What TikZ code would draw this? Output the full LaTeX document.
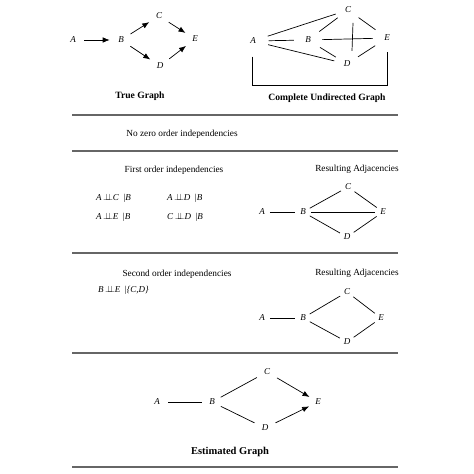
\documentclass[tikz,border=0pt]{standalone}
\usepackage{fontspec}
\setmainfont{Liberation Serif}
\usetikzlibrary{arrows.meta}
\newcommand{\myindep}{\ensuremath{\perp\!\!\!\perp}}
\begin{document}
\begin{tikzpicture}[x=1pt,y=-1pt,
  v/.style={circle,inner sep=#1,font=\fontsize{9}{10}\selectfont\itshape},
  v/.default=2.5pt,
  edge/.style={draw=black,line width=0.7pt},
  arr/.style={edge,-{Latex[length=7pt,width=5.5pt]}},
  rule/.style={draw=black!60,line width=1.1pt},
  ttl/.style={font=\fontsize{9.6}{11}\selectfont\bfseries},
  txt/.style={font=\fontsize{9.3}{11}\selectfont},
  ind/.style={font=\fontsize{9}{11}\selectfont,anchor=west,inner sep=0pt}
]
\useasboundingbox[fill=white] (0,0) rectangle (474,474);

% ---------- True graph ----------
\node[v=5pt] (tA) at (73,40) {A};
\node[v=5pt] (tB) at (121,40) {B};
\node[v=5pt] (tC) at (159,16) {C};
\node[v=5pt] (tE) at (195,39) {E};
\node[v=5pt] (tD) at (160,66) {D};
\draw[arr] (tA) -- (tB);
\draw[arr] (tB) -- (tC);
\draw[arr] (tC) -- (tE);
\draw[arr] (tB) -- (tD);
\draw[arr] (tD) -- (tE);
\node[ttl] (ttrue) at (140,96) {True Graph};

% ---------- Complete undirected graph ----------
\node[v=8pt] (kA) at (253,41) {A};
\node[v=7pt] (kB) at (308,40) {B};
\node[v=6pt] (kC) at (348,10) {C};
\node[v=7pt] (kE) at (387,38) {E};
\node[v=6pt] (kD) at (347,64) {D};
\draw[edge] (kA) -- (kC);
\draw[edge] (kA) -- (kB);
\draw[edge] (kA) -- (kD);
\draw[edge] (kB) -- (kC);
\draw[edge] (kB) -- (kE);
\draw[edge] (kB) -- (kD);
\draw[edge] ([xshift=5pt]kC.south) -- ([xshift=5pt]kD.north);
\draw[edge] (kC) -- (kE);
\draw[edge] (kD) -- (kE);
\draw[edge] ([xshift=-1pt]kA.south) -- ++(0,29) coordinate (kcorner) -| ([xshift=0pt]kE.south);
\node[ttl] (tcomp) at (327,98) {Complete Undirected Graph};

% ---------- rules ----------
\coordinate (r1l) at (72,115); \coordinate (r1r) at (398,115);
\coordinate (r2l) at (72,151); \coordinate (r2r) at (398,151);
\coordinate (r3l) at (72,253); \coordinate (r3r) at (398,253);
\coordinate (r4l) at (72,353); \coordinate (r4r) at (398,353);
\coordinate (r5l) at (72,467); \coordinate (r5r) at (398,467);
\draw[rule] (r1l) -- (r1r);
\draw[rule] (r2l) -- (r2r);
\draw[rule] (r3l) -- (r3r);
\draw[rule] (r4l) -- (r4r);
\draw[rule] (r5l) -- (r5r);

\node[txt] (nozero) at (182,134) {No zero order independencies};

% ---------- First order ----------
\node[txt] (first) at (174,170) {First order independencies};
\node[ind] (i1) at (96,198) {\textit{A}\,\myindep\textit{C}\enspace|\textit{B}};
\node[ind] (i2) at (167,198) {\textit{A}\,\myindep\textit{D}\enspace|\textit{B}};
\node[ind] (i3) at (96,217) {\textit{A}\,\myindep\textit{E}\enspace|\textit{B}};
\node[ind] (i4) at (167,217) {\textit{C}\,\myindep\textit{D}\enspace|\textit{B}};

\node[txt] (res1) at (357,169) {Resulting Adjacencies};
\node[v] (aA) at (262,212) {A};
\node[v] (aB) at (303,212) {B};
\node[v] (aC) at (348,187) {C};
\node[v] (aE) at (383,212) {E};
\node[v] (aD) at (347,237) {D};
\draw[edge] (aA) -- (aB);
\draw[edge] (aB) -- (aC);
\draw[edge] (aC) -- (aE);
\draw[edge] (aB) -- (aE);
\draw[edge] (aB) -- (aD);
\draw[edge] (aD) -- (aE);

% ---------- Second order ----------
\node[txt] (second) at (177,274) {Second order independencies};
\node[ind] (j1) at (98,290) {\textit{B}\,\myindep\textit{E}\enspace|\textit{\{C,D\}}};

\node[txt] (res2) at (357,273) {Resulting Adjacencies};
\node[v] (bA) at (262,318) {A};
\node[v] (bB) at (303,318) {B};
\node[v] (bC) at (347,292) {C};
\node[v] (bE) at (381,318) {E};
\node[v] (bD) at (347,342) {D};
\draw[edge] (bA) -- (bB);
\draw[edge] (bB) -- (bC);
\draw[edge] (bC) -- (bE);
\draw[edge] (bB) -- (bD);
\draw[edge] (bD) -- (bE);

% ---------- Estimated graph ----------
\node[v=5pt] (eA) at (157,402) {A};
\node[v=4pt] (eB) at (212,402) {B};
\node[v=5pt] (eC) at (267,372) {C};
\node[v=4pt] (eE) at (318,402) {E};
\node[v=5pt] (eD) at (265,428) {D};
\draw[edge] (eA) -- (eB);
\draw[edge] (eB) -- (eC);
\draw[edge] (eB) -- (eD);
\draw[arr] (eC) -- (eE);
\draw[arr] (eD) -- (eE);
\node[font=\fontsize{10.5}{12}\selectfont\bfseries] (test) at (230,452) {Estimated Graph};
\end{tikzpicture}
\end{document}
